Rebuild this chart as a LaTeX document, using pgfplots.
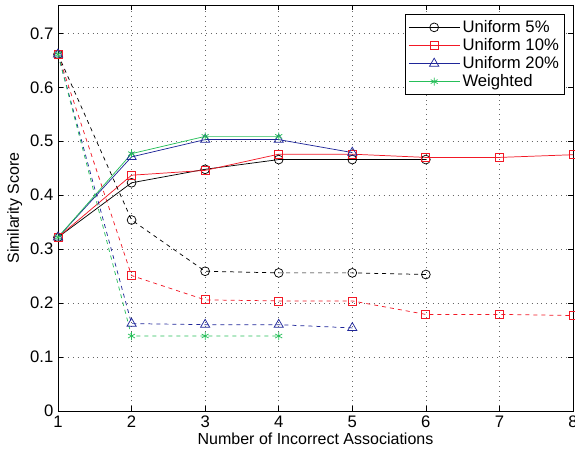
\documentclass[border=0pt]{standalone}
\usepackage{pgfplots}
\pgfplotsset{compat=1.18}
\usepackage{fontspec}
\setmainfont{Liberation Sans}
\definecolor{cred}{rgb}{0.95,0.1,0.15}
\definecolor{cblue}{rgb}{0.12,0.15,0.6}
\definecolor{cgreen}{rgb}{0.15,0.75,0.35}
\begin{document}
\begin{tikzpicture}
\begin{axis}[name=ax,
  scale only axis, width=386.25pt, height=304.5pt,
  xmin=1, xmax=8, ymin=0, ymax=0.7525,
  xtick={1,...,8}, ytick={0,0.1,...,0.7},
  yticklabel style={/pgf/number format/fixed,/pgf/number format/precision=1},
  /pgf/number format/assume math mode=true,
  tick align=inside, major tick length=4pt, tick pos=both,
  grid=major, major grid style={black!60, line width=0.4pt, dash pattern=on 0.5pt off 3.2pt},
  axis line style={line width=0.6pt},
  every tick/.style={black, line width=0.5pt},
  font=\fontsize{12}{14}\selectfont,
  ticklabel style={font=\fontsize{12.5}{14}\selectfont},
  xlabel={Number of Incorrect Associations}, ylabel={Similarity Score},
  xlabel style={yshift=3pt}, ylabel style={yshift=-1pt},
  every axis plot/.append style={line width=0.55pt},
  legend style={at={(0.985,0.978)}, anchor=north east, draw=black, line width=0.6pt,
    font=\fontsize{12.5}{14}\selectfont, cells={anchor=west}, inner sep=2.5pt, row sep=-1pt},
  legend image code/.code={\draw[mark repeat=2,mark phase=2,#1] plot coordinates {(0pt,0pt) (19pt,0pt) (38pt,0pt)};},
]
\addplot[black, mark=o, mark size=3.3pt] coordinates {(1,0.322) (2,0.423) (3,0.448) (4,0.466) (5,0.466) (6,0.466)};
\addlegendentry{Uniform 5\%}
\addplot[cred, mark=square, mark size=3pt] coordinates {(1,0.322) (2,0.437) (3,0.446) (4,0.476) (5,0.476) (6,0.470) (7,0.470) (8,0.475)};
\addlegendentry{Uniform 10\%}
\addplot[cblue, mark=triangle, mark size=4pt] coordinates {(1,0.322) (2,0.471) (3,0.503) (4,0.503) (5,0.479)};
\addlegendentry{Uniform 20\%}
\addplot[cgreen, mark=asterisk, mark size=3pt] coordinates {(1,0.322) (2,0.477) (3,0.509) (4,0.509)};
\addlegendentry{Weighted}
\addplot[black, dashed, mark=o, mark size=3.3pt, mark options={solid}, forget plot] coordinates {(1,0.661) (2,0.354) (3,0.259) (4,0.256) (5,0.256) (6,0.253)};
\addplot[cred, dashed, mark=square, mark size=3pt, mark options={solid}, forget plot] coordinates {(1,0.661) (2,0.251) (3,0.206) (4,0.204) (5,0.204) (6,0.179) (7,0.179) (8,0.177)};
\addplot[cblue, dashed, mark=triangle, mark size=4pt, mark options={solid}, forget plot] coordinates {(1,0.661) (2,0.162) (3,0.160) (4,0.160) (5,0.154)};
\addplot[cgreen, dashed, mark=asterisk, mark size=3pt, mark options={solid}, forget plot] coordinates {(1,0.661) (2,0.139) (3,0.139) (4,0.139)};
\end{axis}
\pgfresetboundingbox
\path[use as bounding box] ([xshift=-43.5pt,yshift=-33.3pt]ax.south west) rectangle ([xshift=1.5pt,yshift=3.75pt]ax.north east);
\end{tikzpicture}
\end{document}
